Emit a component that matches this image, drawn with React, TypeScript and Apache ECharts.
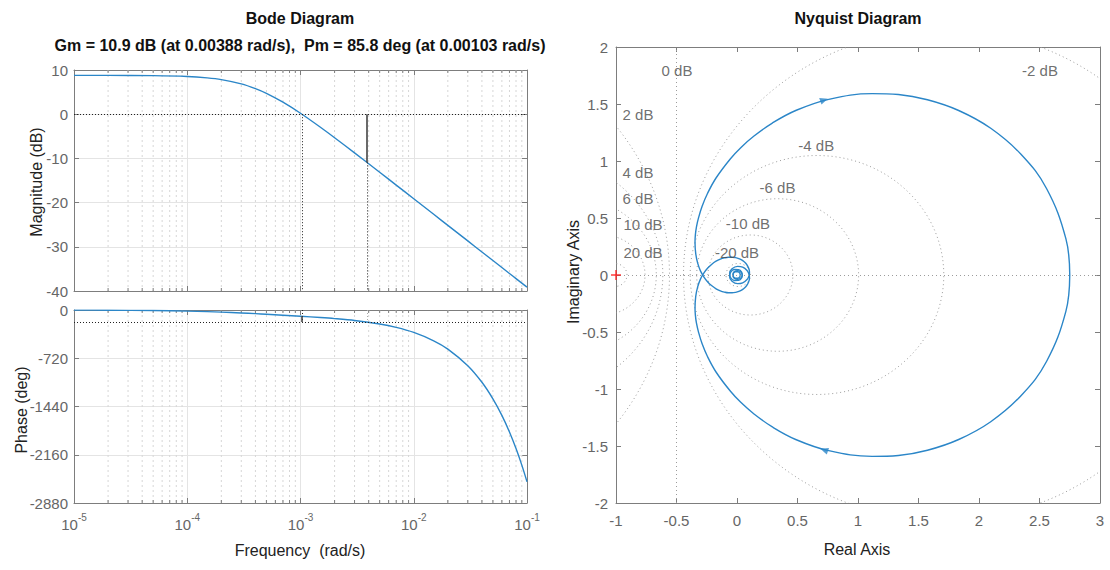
import React, { useEffect, useRef } from "react";
import * as echarts from "echarts";

// ---- Frequency response samples ----
const freq = [1e-5, 2e-5, 5e-5, 1e-4, 1.5e-4, 2e-4, 3e-4, 4e-4, 5e-4, 7e-4, 1e-3, 1.5e-3, 2e-3, 3e-3, 5e-3, 7e-3, 1e-2, 1.5e-2, 2e-2, 3e-2, 4e-2, 5e-2, 6e-2, 7e-2, 8e-2, 9e-2, 1e-1];
const magDb = [8.78, 8.78, 8.72, 8.53, 8.22, 7.83, 6.87, 5.8, 4.73, 2.73, 0.22, -2.95, -5.32, -8.75, -13.13, -16.04, -19.13, -22.65, -25.15, -28.67, -31.17, -33.1, -34.69, -36.03, -37.19, -38.21, -39.13];
const phaseDeg = [-1.7, -3.3, -8.3, -16.4, -24.2, -31.4, -44.1, -54.7, -63.6, -77.4, -92.8, -112.1, -128.1, -156.5, -209.0, -259.8, -334.9, -459.3, -583.3, -830.9, -1078.3, -1325.7, -1573.0, -1820.3, -2067.5, -2314.8, -2562.1];

// ---- Stability margins ----
const gmDb = 10.9;
const gmFreq = 0.00388;
const pmDeg = 85.8;
const pmFreq = 0.00103;

// ---- Axis ranges / ticks ----
const freqDecades = [1e-5, 1e-4, 1e-3, 1e-2];
const minorSteps = [2, 3, 4, 5, 6, 7, 8, 9];
const magTicks = [-40, -30, -20, -10, 0, 10];
const phaseTicks = [-2880, -2160, -1440, -720, 0];
const reTicks = [-1, -0.5, 0, 0.5, 1, 1.5, 2, 2.5, 3];
const imTicks = [-2, -1.5, -1, -0.5, 0, 0.5, 1, 1.5, 2];

// ---- Nyquist curve, positive-frequency branch (real, imaginary) ----
const nyqRe = [2.75, 2.718, 2.558, 2.347, 2.097, 1.832, 1.574, 1.334, 1.117, 0.758, 0.49, 0.292, 0.143, 0.031, -0.054, -0.172, -0.244, -0.289, -0.317, -0.335, -0.344, -0.347, -0.341, -0.325, -0.302, -0.273, -0.242, -0.208, -0.173, -0.138, -0.105, -0.071, -0.041, -0.011, 0.015, 0.038, 0.057, 0.074, 0.086, 0.094, 0.101, 0.103, 0.102, 0.098, 0.083, 0.047, 0.005, -0.041, -0.061, -0.052, -0.022, 0.013, 0.038, 0.043, 0.029, 0.003, -0.021, -0.033, -0.03, -0.014, 0.007, 0.023, 0.027];
const nyqIm = [0, -0.319, -0.759, -1.059, -1.287, -1.443, -1.537, -1.583, -1.591, -1.541, -1.445, -1.333, -1.221, -1.117, -1.02, -0.853, -0.715, -0.601, -0.505, -0.423, -0.352, -0.29, -0.187, -0.104, -0.036, 0.018, 0.061, 0.095, 0.121, 0.139, 0.15, 0.156, 0.156, 0.152, 0.144, 0.132, 0.118, 0.101, 0.083, 0.065, 0.045, 0.025, 0.007, -0.011, -0.04, -0.069, -0.076, -0.055, -0.015, 0.025, 0.048, 0.047, 0.026, -0.004, -0.029, -0.038, -0.03, -0.009, 0.014, 0.028, 0.029, 0.017, -0.002];

// ---- Constant-magnitude (M) circles ----
const mCircleDb = [2, 4, 6, 10, 20, -2, -4, -6, -10, -20];
const mCircleCenter = [-2.71, -1.661, -1.336, -1.111, -1.01, 1.71, 0.661, 0.336, 0.111, 0.01];
const mCircleRadius = [2.152, 1.048, 0.669, 0.351, 0.101, 2.152, 1.048, 0.669, 0.351, 0.101];

// label anchors for the M-circle captions (same order as mCircleDb), plus 0 dB
const mLabelPos = [
  [-0.818, 1.41], [-0.818, 0.9], [-0.818, 0.67], [-0.777, 0.44], [-0.777, 0.2],
  [2.504, 1.79], [0.655, 1.135], [0.335, 0.765], [0.09, 0.45], [0.0, 0.2],
];
const zeroDbLabelPos = [-0.496, 1.79];

const FONT = "'Liberation Sans', Arial, Helvetica, sans-serif";
const AXIS = "#7d7d7d";
const TICKTEXT = "#666666";
const GRIDC = "#e4e4e4";
const BLUE = "#2b86c8";
const MGRAY = "#9c9c9c";

const frameAxis = (extra: any) => ({
  axisLine: { show: true, onZero: false, lineStyle: { color: AXIS, width: 1 } },
  axisTick: { show: true, inside: true, length: 5, lineStyle: { color: AXIS } },
  splitLine: { show: false },
  axisLabel: { show: false },
  ...extra,
});

const tickLabel = (margin: number) => ({
  show: true,
  margin,
  color: TICKTEXT,
  fontFamily: FONT,
  fontSize: 15,
  showMinLabel: true,
  showMaxLabel: true,
  formatter: (v: number) => String(v),
});

const decadeLabel = {
  ...tickLabel(9),
  formatter: (v: number) => `{b|10}{e|${Math.round(Math.log10(v))}}`,
  rich: {
    b: { fontFamily: FONT, fontSize: 15, lineHeight: 20, color: TICKTEXT, verticalAlign: "bottom" },
    e: { fontFamily: FONT, fontSize: 10, lineHeight: 10, color: TICKTEXT, verticalAlign: "top" },
  },
};

const minorFreqs: number[] = [];
freqDecades.forEach((d) => minorSteps.forEach((m) => minorFreqs.push(d * m)));

const minorGridSeries = (idx: number, yRef: number) => ({
  type: "custom",
  xAxisIndex: idx * 2,
  yAxisIndex: idx * 2,
  z: 1,
  silent: true,
  data: minorFreqs.map((f) => [f, yRef]),
  renderItem: (params: any, api: any) => {
    const cs = params.coordSys;
    const px = api.coord([api.value(0), api.value(1)])[0];
    const top = cs.y;
    const bot = cs.y + cs.height;
    return {
      type: "group",
      children: [
        { type: "line", shape: { x1: px, y1: top, x2: px, y2: bot }, style: { stroke: "#d6d6d6", lineWidth: 1, lineDash: [2, 3] } },
        { type: "line", shape: { x1: px, y1: top, x2: px, y2: top + 3 }, style: { stroke: AXIS, lineWidth: 1 } },
        { type: "line", shape: { x1: px, y1: bot - 3, x2: px, y2: bot }, style: { stroke: AXIS, lineWidth: 1 } },
      ],
    };
  },
});

const dotted = { color: "#222", width: 1, type: [1, 2] as any };

const titleText = (x: number, y: number, text: string, size: number) => ({
  type: "text",
  x,
  y,
  style: { text, font: `bold ${size}px ${FONT}`, fill: "#111", align: "center", verticalAlign: "middle", textAlign: "center", textVerticalAlign: "middle" },
});

const axisTitle = (x: number, y: number, text: string, vertical: boolean) => ({
  type: "text",
  x,
  y,
  rotation: vertical ? Math.PI / 2 : 0,
  style: { text, font: `16px ${FONT}`, fill: "#222", align: "center", verticalAlign: "middle", textAlign: "center", textVerticalAlign: "middle" },
});

export default function App() {
  const ref = useRef<HTMLDivElement>(null);

  useEffect(() => {
    if (!ref.current) return;
    const chart = echarts.init(ref.current, null, { renderer: "svg" });

    const magData = freq.map((f, i) => [f, magDb[i]]);
    const phaseData = freq.map((f, i) => [f, phaseDeg[i]]);
    const nyqLower = nyqRe.map((x, i) => [x, nyqIm[i]]);
    const nyqUpper = nyqRe.map((x, i) => [x, -nyqIm[i]]);
    const fMin = freqDecades[0];
    const fMax = 0.1;

    const option: any = {
      animation: false,
      backgroundColor: "#ffffff",
      grid: [
        { left: 74, top: 70, width: 453, height: 221, containLabel: false, outerBoundsMode: "none" },
        { left: 74, top: 310, width: 453, height: 193, containLabel: false, outerBoundsMode: "none" },
        { left: 616, top: 47, width: 484, height: 456, containLabel: false, outerBoundsMode: "none" },
      ],
      xAxis: [
        frameAxis({ type: "log", logBase: 10, gridIndex: 0, min: fMin, max: fMax, position: "bottom", splitLine: { show: true, lineStyle: { color: GRIDC } } }),
        frameAxis({ type: "log", logBase: 10, gridIndex: 0, min: fMin, max: fMax, position: "top" }),
        frameAxis({ type: "log", logBase: 10, gridIndex: 1, min: fMin, max: fMax, position: "bottom", splitLine: { show: true, lineStyle: { color: GRIDC } }, axisLabel: decadeLabel }),
        frameAxis({ type: "log", logBase: 10, gridIndex: 1, min: fMin, max: fMax, position: "top" }),
        frameAxis({ type: "value", gridIndex: 2, min: reTicks[0], max: reTicks[reTicks.length - 1], interval: 0.5, position: "bottom", axisLabel: tickLabel(10) }),
        frameAxis({ type: "value", gridIndex: 2, min: reTicks[0], max: reTicks[reTicks.length - 1], interval: 0.5, position: "top" }),
      ],
      yAxis: [
        frameAxis({ type: "value", gridIndex: 0, min: magTicks[0], max: magTicks[magTicks.length - 1], interval: 10, position: "left", splitLine: { show: true, lineStyle: { color: GRIDC } }, axisLabel: tickLabel(6) }),
        frameAxis({ type: "value", gridIndex: 0, min: magTicks[0], max: magTicks[magTicks.length - 1], interval: 10, position: "right" }),
        frameAxis({ type: "value", gridIndex: 1, min: phaseTicks[0], max: phaseTicks[phaseTicks.length - 1], interval: 720, position: "left", splitLine: { show: true, lineStyle: { color: GRIDC } }, axisLabel: tickLabel(6) }),
        frameAxis({ type: "value", gridIndex: 1, min: phaseTicks[0], max: phaseTicks[phaseTicks.length - 1], interval: 720, position: "right" }),
        frameAxis({ type: "value", gridIndex: 2, min: imTicks[0], max: imTicks[imTicks.length - 1], interval: 0.5, position: "left", axisLabel: tickLabel(8) }),
        frameAxis({ type: "value", gridIndex: 2, min: imTicks[0], max: imTicks[imTicks.length - 1], interval: 0.5, position: "right" }),
      ],
      graphic: [
        titleText(300, 18, "Bode Diagram", 16),
        titleText(300, 45, `Gm = ${gmDb} dB (at ${gmFreq} rad/s),  Pm = ${pmDeg} deg (at ${pmFreq} rad/s)`, 16),
        titleText(858, 18, "Nyquist Diagram", 16),
        axisTitle(36, 182, "Magnitude (dB)", true),
        axisTitle(21, 410, "Phase (deg)", true),
        axisTitle(300, 550, "Frequency  (rad/s)", false),
        axisTitle(573, 272, "Imaginary Axis", true),
        axisTitle(857, 549, "Real Axis", false),
      ],
      series: [
        minorGridSeries(0, magTicks[0]),
        minorGridSeries(1, phaseTicks[0]),
        {
          type: "line",
          xAxisIndex: 0,
          yAxisIndex: 0,
          data: magData,
          showSymbol: false,
          smooth: 0.3,
          z: 3,
          lineStyle: { color: BLUE, width: 1.4 },
          markLine: {
            silent: true,
            symbol: ["none", "none"],
            label: { show: false },
            data: [
              [{ coord: [fMin, 0], lineStyle: dotted }, { coord: [fMax, 0] }],
              [{ coord: [pmFreq, 0], lineStyle: dotted }, { coord: [pmFreq, magTicks[0]] }],
              [{ coord: [gmFreq, -gmDb], lineStyle: dotted }, { coord: [gmFreq, magTicks[0]] }],
              [{ coord: [gmFreq, 0], lineStyle: { color: "#444", width: 1.6, type: "solid" } }, { coord: [gmFreq, -gmDb] }],
            ],
          },
        },
        {
          type: "line",
          xAxisIndex: 2,
          yAxisIndex: 2,
          data: phaseData,
          showSymbol: false,
          smooth: 0.3,
          z: 3,
          lineStyle: { color: BLUE, width: 1.4 },
          markLine: {
            silent: true,
            symbol: ["none", "none"],
            label: { show: false },
            data: [
              [{ coord: [fMin, -180], lineStyle: dotted }, { coord: [fMax, -180] }],
              [{ coord: [pmFreq, 0], lineStyle: dotted }, { coord: [pmFreq, -180] }],
              [{ coord: [pmFreq, pmDeg - 180], lineStyle: { color: "#444", width: 1.6, type: "solid" } }, { coord: [pmFreq, -180] }],
              [{ coord: [gmFreq, 0], lineStyle: { color: "#aaa", width: 1, type: [1, 2] } }, { coord: [gmFreq, -180] }],
            ],
          },
        },
        // M-circles
        {
          type: "custom",
          xAxisIndex: 4,
          yAxisIndex: 4,
          clip: true,
          silent: true,
          z: 1,
          data: mCircleCenter.map((c, i) => [c, mCircleRadius[i], mCircleDb[i]]),
          renderItem: (_params: any, api: any) => {
            const c = api.coord([api.value(0), 0]);
            const s = api.size([api.value(1), api.value(1)]);
            return {
              type: "ellipse",
              shape: { cx: c[0], cy: c[1], rx: s[0], ry: s[1] },
              style: { fill: "none", stroke: MGRAY, lineWidth: 1, lineDash: [1, 3] },
            };
          },
        },
        {
          type: "line",
          xAxisIndex: 4,
          yAxisIndex: 4,
          data: nyqLower,
          showSymbol: false,
          smooth: 0.4,
          z: 3,
          lineStyle: { color: BLUE, width: 1.4 },
          markLine: {
            silent: true,
            symbol: ["none", "none"],
            label: { show: false },
            lineStyle: { color: MGRAY, width: 1, type: [1, 3] },
            data: [{ xAxis: -0.5 }, { yAxis: 0 }],
          },
        },
        {
          type: "line",
          xAxisIndex: 4,
          yAxisIndex: 4,
          data: nyqUpper,
          showSymbol: false,
          smooth: 0.4,
          z: 3,
          lineStyle: { color: BLUE, width: 1.4 },
        },
        // direction arrows
        {
          type: "scatter",
          xAxisIndex: 4,
          yAxisIndex: 4,
          symbol: "triangle",
          symbolSize: [7, 8],
          z: 4,
          itemStyle: { color: BLUE },
          data: [
            { value: [0.72, 1.535], symbolRotate: -71 },
            { value: [0.72, -1.535], symbolRotate: 71 },
          ],
        },
        // M-circle captions
        {
          type: "scatter",
          xAxisIndex: 4,
          yAxisIndex: 4,
          symbolSize: 1,
          z: 5,
          itemStyle: { color: "rgba(0,0,0,0)" },
          label: {
            show: true,
            position: "inside",
            formatter: "{b}",
            color: "#4a4a4a",
            fontFamily: FONT,
            fontSize: 15,
          },
          data: [
            { name: "0 dB", value: zeroDbLabelPos },
            ...mCircleDb.map((db, i) => ({ name: `${db} dB`, value: mLabelPos[i] })),
          ],
        },
        // critical point -1 + 0j
        {
          type: "custom",
          xAxisIndex: 4,
          yAxisIndex: 4,
          clip: false,
          silent: true,
          z: 6,
          data: [[-1, 0]],
          renderItem: (_params: any, api: any) => {
            const p = api.coord([api.value(0), api.value(1)]);
            return {
              type: "group",
              children: [
                { type: "line", shape: { x1: p[0] - 5, y1: p[1], x2: p[0] + 5, y2: p[1] }, style: { stroke: "#ff2020", lineWidth: 1.3 } },
                { type: "line", shape: { x1: p[0], y1: p[1] - 5, x2: p[0], y2: p[1] + 5 }, style: { stroke: "#ff2020", lineWidth: 1.3 } },
              ],
            };
          },
        },
      ],
    };

    chart.setOption(option);
    return () => chart.dispose();
  }, []);

  return <div ref={ref} style={{ position: "absolute", left: 0, top: 0, width: 1110, height: 570 }} />;
}
